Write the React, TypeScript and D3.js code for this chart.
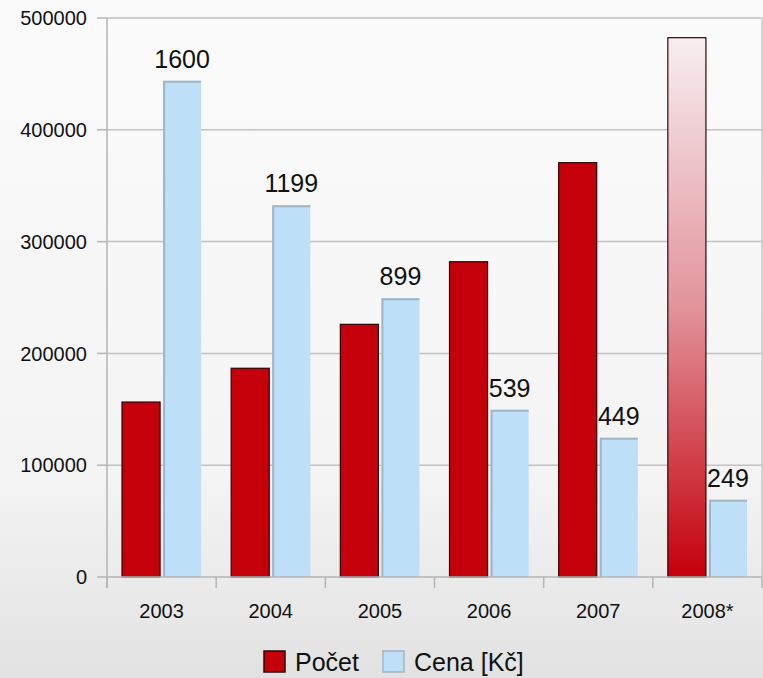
import React, { useEffect, useRef } from 'react';
import * as d3 from 'd3';

const years = ['2003', '2004', '2005', '2006', '2007', '2008*'];
const pocet = [156500, 186700, 226000, 282000, 370600, 482400];
const cena = [1600, 1199, 899, 539, 449, 249];
const yTicks = [0, 100000, 200000, 300000, 400000, 500000];

const App: React.FC = () => {
  const svgRef = useRef<SVGSVGElement>(null);

  useEffect(() => {
    if (!svgRef.current) return;
    document.body.style.margin = '0';
    const svg = d3.select(svgRef.current);
    svg.selectAll('*').remove();

    const W = 763;
    const H = 678;
    const left = 107;
    const right = 762;
    const top = 18;
    const bottom = 577;
    const font = 'Liberation Sans, Arial, sans-serif';

    const defs = svg.append('defs');
    const bg = defs.append('linearGradient').attr('id', 'bg').attr('x1', 0).attr('y1', 0).attr('x2', 0).attr('y2', 1);
    bg.append('stop').attr('offset', '0%').attr('stop-color', '#fbfbfb');
    bg.append('stop').attr('offset', '70%').attr('stop-color', '#f4f4f4');
    bg.append('stop').attr('offset', '100%').attr('stop-color', '#e2e2e2');

    const red = defs.append('linearGradient').attr('id', 'red08').attr('x1', 0).attr('y1', 0).attr('x2', 0).attr('y2', 1);
    red.append('stop').attr('offset', '0%').attr('stop-color', '#f7eef0');
    red.append('stop').attr('offset', '50%').attr('stop-color', '#e2939b');
    red.append('stop').attr('offset', '100%').attr('stop-color', '#c4000b');

    svg.append('rect').attr('width', W).attr('height', H).attr('fill', 'url(#bg)');

    const x = d3.scaleBand<string>().domain(years).range([left, right]);
    const bw = x.bandwidth();
    const xSub = d3.scaleBand<string>()
      .domain(['pocet', 'cena'])
      .range([bw * 0.1375, bw * 0.8625])
      .paddingInner(3 / 41);
    const y = d3.scaleLinear().domain([0, 500000]).range([bottom, top]);
    // price axis is hidden, bars are scaled so 1600 Kč sits at ~444000
    const y2 = d3.scaleLinear().domain([0, 500000 / 277.4]).range([bottom, top]);

    // gridlines
    svg.selectAll('.grid')
      .data(yTicks.filter(d => d > 0))
      .enter()
      .append('line')
      .attr('x1', left)
      .attr('x2', right)
      .attr('y1', d => y(d))
      .attr('y2', d => y(d))
      .attr('stroke', '#c2c2c2')
      .attr('stroke-width', 1.5);

    // right border
    svg.append('line')
      .attr('x1', right).attr('x2', right)
      .attr('y1', top).attr('y2', bottom)
      .attr('stroke', '#c8c8c8').attr('stroke-width', 1.5);

    // y axis ticks + labels
    svg.selectAll('.ytick')
      .data(yTicks)
      .enter()
      .append('line')
      .attr('x1', left - 10)
      .attr('x2', left)
      .attr('y1', d => y(d))
      .attr('y2', d => y(d))
      .attr('stroke', '#b5b5b5')
      .attr('stroke-width', 1.5);

    svg.selectAll('.ylabel')
      .data(yTicks)
      .enter()
      .append('text')
      .attr('x', left - 20)
      .attr('y', d => y(d))
      .attr('dy', '0.36em')
      .attr('text-anchor', 'end')
      .attr('font-family', font)
      .attr('font-size', 20)
      .attr('fill', '#111')
      .text(d => d);

    // x axis ticks at band boundaries
    const bounds = years.map(d => x(d) as number).concat([right]);
    svg.selectAll('.xtick')
      .data(bounds)
      .enter()
      .append('line')
      .attr('x1', d => d)
      .attr('x2', d => d)
      .attr('y1', bottom)
      .attr('y2', bottom + 11)
      .attr('stroke', '#b5b5b5')
      .attr('stroke-width', 1.5);

    svg.selectAll('.xlabel')
      .data(years)
      .enter()
      .append('text')
      .attr('x', d => (x(d) as number) + (xSub('pocet') as number) + xSub.bandwidth() + xSub.step() * (3 / 41) / 2)
      .attr('y', 618)
      .attr('text-anchor', 'middle')
      .attr('font-family', font)
      .attr('font-size', 20)
      .attr('fill', '#111')
      .text(d => d);

    // Počet bars
    svg.selectAll('.pocet')
      .data(pocet)
      .enter()
      .append('rect')
      .attr('x', (d, i) => (x(years[i]) as number) + (xSub('pocet') as number))
      .attr('y', d => y(d))
      .attr('width', xSub.bandwidth())
      .attr('height', d => bottom - y(d))
      .attr('fill', (d, i) => (i === years.length - 1 ? 'url(#red08)' : '#c4000b'))
      .attr('stroke', '#2e0606')
      .attr('stroke-width', 1.2);

    // Cena bars
    const cx = (i: number) => (x(years[i]) as number) + (xSub('cena') as number);
    svg.selectAll('.cena')
      .data(cena)
      .enter()
      .append('rect')
      .attr('x', (d, i) => cx(i))
      .attr('y', d => y2(d))
      .attr('width', xSub.bandwidth())
      .attr('height', d => bottom - y2(d))
      .attr('fill', '#bde0f8');

    svg.selectAll('.cena-edge')
      .data(cena)
      .enter()
      .append('path')
      .attr('d', (d, i) => `M${cx(i) + 1},${bottom} V${y2(d) + 1} H${cx(i) + xSub.bandwidth()}`)
      .attr('fill', 'none')
      .attr('stroke', '#a4b4c2')
      .attr('stroke-width', 2);

    svg.selectAll('.cena-label')
      .data(cena)
      .enter()
      .append('text')
      .attr('x', (d, i) => cx(i) + xSub.bandwidth() / 2)
      .attr('y', d => y2(d) - 13)
      .attr('text-anchor', 'middle')
      .attr('font-family', font)
      .attr('font-size', 25)
      .attr('fill', '#111')
      .text(d => d);

    // left axis line
    svg.append('line')
      .attr('x1', left).attr('x2', left)
      .attr('y1', top).attr('y2', bottom + 11)
      .attr('stroke', '#b5b5b5').attr('stroke-width', 1.5);
    svg.append('line')
      .attr('x1', left).attr('x2', right)
      .attr('y1', bottom).attr('y2', bottom)
      .attr('stroke', '#b5b5b5').attr('stroke-width', 1.5);

    // legend
    const legend = [
      { label: 'Počet', fill: '#c4000b', stroke: '#2e0606', x: 264 },
      { label: 'Cena [Kč]', fill: '#bde0f8', stroke: '#a4b4c2', x: 383 },
    ];
    legend.forEach(l => {
      svg.append('rect')
        .attr('x', l.x).attr('y', 651)
        .attr('width', 21).attr('height', 21)
        .attr('fill', l.fill)
        .attr('stroke', l.stroke)
        .attr('stroke-width', 1.5);
      svg.append('text')
        .attr('x', l.x + 31)
        .attr('y', 671)
        .attr('font-family', font)
        .attr('font-size', 25)
        .attr('fill', '#111')
        .text(l.label);
    });
  }, []);

  return <svg ref={svgRef} width={763} height={678} style={{ display: 'block' }}></svg>;
};

export default App;
